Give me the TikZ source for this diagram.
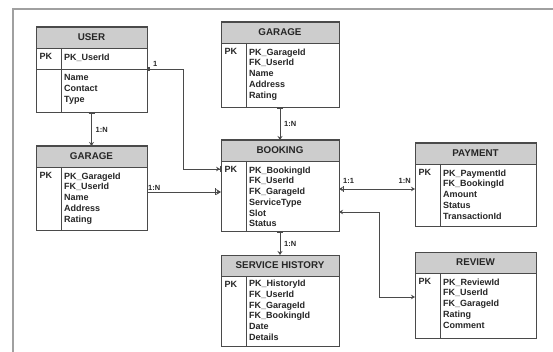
\documentclass[tikz,border=0pt]{standalone}
\usepackage{fontspec}
\setmainfont{Liberation Sans}
\usetikzlibrary{arrows.meta, positioning, calc}

\definecolor{hdrgray}{HTML}{CDCDCD}
\definecolor{linegray}{HTML}{4A4A4A}
\definecolor{framegray}{HTML}{A0A0A0}

\tikzset{
    entbox/.style={draw=linegray, line width=1pt, fill=white, inner sep=0pt, outer sep=0pt},
    entline/.style={draw=linegray, line width=0.8pt},
    hdrtext/.style={font=\fontsize{9.8}{10}\selectfont\bfseries, text=black!85, inner sep=0pt},
    pktext/.style={font=\fontsize{9}{10.7}\selectfont\bfseries, text=black!85, inner sep=0pt, anchor=north west},
    fieldtext/.style={font=\fontsize{9}{10.7}\selectfont\bfseries, text=black!85, inner sep=0pt, anchor=north west, align=left},
    conn/.style={draw=linegray, line width=0.9pt},
    cardtext/.style={font=\fontsize{7.5}{8}\selectfont\bfseries, text=black!85, inner sep=1pt}
}

% entity box: name, left, top, width, height, title
\newcommand{\erentity}[6]{%
    \node[entbox, minimum width=#4pt, minimum height=#5pt, anchor=north west] (#1) at (#2,#3) {};
    \draw[entline, fill=hdrgray] (#1.north west) rectangle ([yshift=-21pt]#1.north east);
    \node[hdrtext] (#1-title) at ([yshift=-10.5pt]#1.north) {#6};
    \draw[entline] ([xshift=25pt,yshift=-21pt]#1.north west) -- ([xshift=25pt]#1.south west);
    \node[pktext] (#1-pk) at ([xshift=3.5pt,yshift=-26.5pt]#1.north west) {PK};
}

\begin{document}
\begin{tikzpicture}[x=1pt, y=-1pt]
    \useasboundingbox (0,0) rectangle (553,352);

    % Frame
    \draw[framegray, line width=1.6pt] (13,352) -- (13,9) -- (553,9);

    % Left column
    \erentity{user}{36}{27}{111}{86}{USER}
    \node[fieldtext] (user-key) at ([xshift=28pt,yshift=-26.5pt]user.north west) {PK\_UserId};
    \draw[entline] ([yshift=-42pt]user.north west) -- ([yshift=-42pt]user.north east);
    \node[fieldtext] (user-fields) at ([xshift=28pt,yshift=-47.5pt]user.north west) {Name\\Contact\\Type};

    \erentity{garageL}{36}{146}{111}{85}{GARAGE}
    \node[fieldtext] (garageL-fields) at ([xshift=28pt,yshift=-26.5pt]garageL.north west)
        {PK\_GarageId\\FK\_UserId\\Name\\Address\\Rating};

    % Middle column
    \erentity{garageT}{221}{22}{118}{86}{GARAGE}
    \node[fieldtext] (garageT-fields) at ([xshift=28pt,yshift=-26.5pt]garageT.north west)
        {PK\_GarageId\\FK\_UserId\\Name\\Address\\Rating};

    \erentity{booking}{221}{140}{118}{92}{BOOKING}
    \node[fieldtext] (booking-fields) at ([xshift=28pt,yshift=-26.5pt]booking.north west)
        {PK\_BookingId\\FK\_UserId\\FK\_GarageId\\ServiceType\\Slot\\Status};

    \erentity{history}{221}{255}{118}{91}{SERVICE HISTORY}
    \node[fieldtext] (history-fields) at ([xshift=28pt,yshift=-25pt]history.north west)
        {PK\_HistoryId\\FK\_UserId\\FK\_GarageId\\FK\_BookingId\\Date\\Details};

    % Right column
    \erentity{payment}{415}{143}{121}{84}{PAYMENT}
    \node[fieldtext] (payment-fields) at ([xshift=28pt,yshift=-26.5pt]payment.north west)
        {PK\_PaymentId\\FK\_BookingId\\Amount\\Status\\TransactionId};

    \erentity{review}{415}{252}{121}{86}{REVIEW}
    \node[fieldtext] (review-fields) at ([xshift=28pt,yshift=-26.5pt]review.north west)
        {PK\_ReviewId\\FK\_UserId\\FK\_GarageId\\Rating\\Comment};

    % Connector ends
    \coordinate (user-out) at ([yshift=-42pt]user.north east);
    \coordinate (booking-u) at ([yshift=-29pt]booking.north west);
    \coordinate (booking-g) at ([yshift=-52pt]booking.north west);
    \coordinate (booking-p) at ([yshift=-49pt]booking.north east);
    \coordinate (booking-r) at ([yshift=-72pt]booking.north east);
    \coordinate (review-in) at ([yshift=-45pt]review.north west);

    % Relations
    \draw[conn, {Square[length=3pt,width=3pt]}-{Stealth[length=4pt,width=4.5pt] Bar[width=6pt]}]
        (user-out) -- ++(36,0) |- (booking-u);
    \node[cardtext, above right=1pt and 5pt] at (user-out) {1};

    \draw[conn, -{Bar[width=7pt] Stealth[length=5pt,width=6pt,open]}]
        (garageL.east |- booking-g) -- (booking-g);
    \node[cardtext, above right] at (garageL.east |- booking-g) {1:N};

    \draw[conn, {Bar[width=6pt]}-{Stealth[length=4pt,width=5pt]}] (user.south) -- (garageL.north);
    \node[cardtext, right=3pt] at ($(user.south)!0.5!(garageL.north)$) {1:N};

    \draw[conn, {Bar[width=6pt]}-{Stealth[length=4pt,width=5pt]}] (garageT.south) -- (booking.north);
    \node[cardtext, right=3pt] at ($(garageT.south)!0.5!(booking.north)$) {1:N};

    \draw[conn, {Bar[width=6pt]}-{Stealth[length=4pt,width=5pt]}] (booking.south) -- (history.north);
    \node[cardtext, right=3pt] at ($(booking.south)!0.5!(history.north)$) {1:N};

    \draw[conn, {Stealth[length=4pt,width=4.5pt] Bar[width=6pt]}-{Stealth[length=4pt,width=4.5pt]}]
        (booking-p) -- (payment.west |- booking-p);
    \node[cardtext, above right=4pt and 3pt] at (booking-p) {1:1};
    \node[cardtext, above left=4pt and 3pt] at (payment.west |- booking-p) {1:N};

    \draw[conn, {Stealth[length=4pt,width=4.5pt]}-{Stealth[length=4pt,width=4.5pt]}]
        (booking-r) -- ++(40,0) |- (review-in);

\end{tikzpicture}
\end{document}
